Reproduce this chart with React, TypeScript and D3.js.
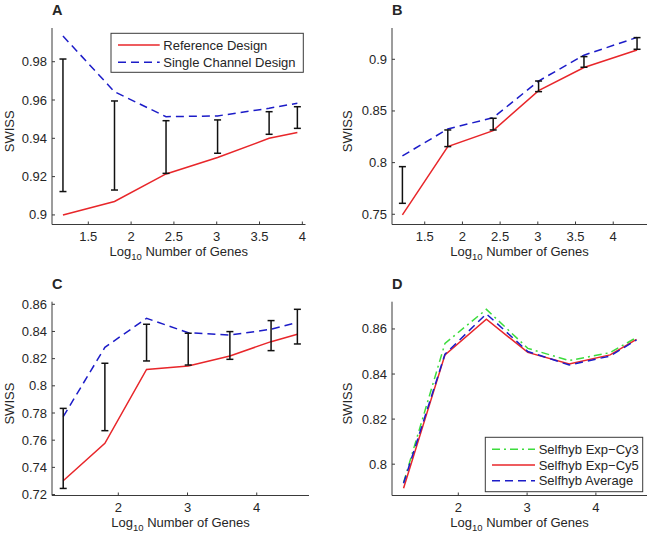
import React from "react";
import * as d3 from "d3";

// ---------- DATA ----------
const xA = [1.204, 1.806, 2.408, 3.01, 3.612, 3.942];
const refA = [0.9, 0.907, 0.9214, 0.93, 0.94, 0.943];
const scA = [0.9934, 0.9643, 0.9513, 0.9517, 0.9557, 0.9583];
const errLoA = [0.9122, 0.913, 0.9217, 0.9322, 0.9421, 0.9452];
const errHiA = [0.9814, 0.9595, 0.9492, 0.9496, 0.9539, 0.9565];
const xTicksA = [1.5, 2, 2.5, 3, 3.5, 4];
const yTicksA = [0.9, 0.92, 0.94, 0.96, 0.98];

const xB = [1.204, 1.806, 2.408, 3.01, 3.612, 4.316];
const refB = [0.7494, 0.8155, 0.831, 0.8697, 0.892, 0.909];
const scB = [0.8065, 0.8326, 0.8435, 0.879, 0.904, 0.9212];
const errLoB = [0.7606, 0.8155, 0.8316, 0.8687, 0.8923, 0.9097];
const errHiB = [0.7961, 0.8316, 0.8429, 0.879, 0.9026, 0.921];
const xTicksB = [1.5, 2, 2.5, 3, 3.5, 4];
const yTicksB = [0.75, 0.8, 0.85, 0.9];

const xC = [1.204, 1.806, 2.408, 3.01, 3.612, 4.207, 4.587];
const refC = [0.7302, 0.7577, 0.8121, 0.8146, 0.822, 0.8325, 0.8379];
const scC = [0.7773, 0.8283, 0.8497, 0.8391, 0.8374, 0.8416, 0.8467];
const errLoC = [0.7245, 0.767, 0.8183, 0.8153, 0.8195, 0.8259, 0.8308];
const errHiC = [0.7834, 0.8166, 0.8453, 0.8387, 0.8399, 0.848, 0.8563];
const xTicksC = [2, 3, 4];
const yTicksC = [0.72, 0.74, 0.76, 0.78, 0.8, 0.82, 0.84, 0.86];

const xD = [1.204, 1.806, 2.408, 3.01, 3.612, 4.207, 4.59];
const cy3D = [0.7918, 0.8536, 0.8687, 0.8514, 0.846, 0.8495, 0.8562];
const cy5D = [0.7893, 0.8485, 0.8643, 0.8496, 0.8445, 0.8485, 0.8554];
const avgD = [0.7915, 0.8488, 0.8667, 0.85, 0.844, 0.848, 0.8551];
const xTicksD = [2, 3, 4];
const yTicksD = [0.8, 0.82, 0.84, 0.86];

const legendAB = ["Reference Design", "Single Channel Design"];
const legendD = ["Selfhyb Exp\u2212Cy3", "Selfhyb Exp\u2212Cy5", "Selfhyb Average"];

// ---------- STYLE ----------
const FONT = "'Liberation Sans', Arial, Helvetica, sans-serif";
const TXT = "#262626";
const AX = "#3a3a3a";
const RED = "#e8262a";
const BLUE = "#1c1cc8";
const GREEN = "#3ddc3d";
const DASH = "8,5";
const DASHDOT = "8,4,2,4";

type Series = { ys: number[]; color: string; dash?: string };

type PanelProps = {
  letter: string;
  x0: number; x1: number; y0: number; y1: number;
  xDom: [number, number]; yDom: [number, number];
  xs: number[];
  series: Series[];
  errLo?: number[]; errHi?: number[];
  xTicks: number[]; yTicks: number[];
  ylabX: number;
};

const fmt = (v: number) => d3.format("~g")(+v.toFixed(4));

function Panel(p: PanelProps) {
  const xs = d3.scaleLinear().domain(p.xDom).range([p.x0, p.x1]);
  const ys = d3.scaleLinear().domain(p.yDom).range([p.y1, p.y0]);
  const line = (vals: number[]) =>
    d3.line<number>().x((_, i) => xs(p.xs[i])).y((v) => ys(v))(vals) || "";
  const midY = (p.y0 + p.y1) / 2 + 5;
  const midX = (p.x0 + p.x1) / 2;
  return (
    <g>
      <text x={p.x0} y={p.y0 - 13} fontSize={14.5} fontWeight="bold" fill={TXT} fontFamily={FONT}>
        {p.letter}
      </text>
      {/* axes */}
      <line x1={p.x0} x2={p.x0} y1={p.y0} y2={p.y1} stroke={AX} strokeWidth={1} />
      <line x1={p.x0} x2={p.x1} y1={p.y1} y2={p.y1} stroke={AX} strokeWidth={1} />
      {p.yTicks.map((t) => (
        <g key={"y" + t}>
          <line x1={p.x0} x2={p.x0 + 3} y1={ys(t)} y2={ys(t)} stroke={AX} strokeWidth={1} />
          <text x={p.x0 - 5} y={ys(t) + 4.5} textAnchor="end" fontSize={13} fill={TXT} fontFamily={FONT}>
            {fmt(t)}
          </text>
        </g>
      ))}
      {p.xTicks.map((t) => (
        <g key={"x" + t}>
          <line x1={xs(t)} x2={xs(t)} y1={p.y1} y2={p.y1 - 3} stroke={AX} strokeWidth={1} />
          <text x={xs(t)} y={p.y1 + 16.5} textAnchor="middle" fontSize={13} fill={TXT} fontFamily={FONT}>
            {fmt(t)}
          </text>
        </g>
      ))}
      <text x={midX} y={p.y1 + 31} textAnchor="middle" fontSize={13} fill={TXT} fontFamily={FONT}>
        Log<tspan fontSize={9.5} dy={4}>10</tspan>
        <tspan dy={-4}> Number of Genes</tspan>
      </text>
      <text
        transform={`translate(${p.ylabX},${midY}) rotate(-90)`}
        textAnchor="middle" fontSize={13} fill={TXT} fontFamily={FONT}
      >
        SWISS
      </text>
      {/* series */}
      {p.series.map((s, i) => (
        <path key={i} d={line(s.ys)} fill="none" stroke={s.color} strokeWidth={1.5}
          strokeDasharray={s.dash} />
      ))}
      {p.errLo && p.errHi && p.xs.map((xv, i) => {
        const cx = xs(xv);
        const lo = ys(p.errLo![i]);
        const hi = ys(p.errHi![i]);
        return (
          <g key={"e" + i} stroke="#111" strokeWidth={1.5}>
            <line x1={cx} x2={cx} y1={lo} y2={hi} />
            <line x1={cx - 3.5} x2={cx + 3.5} y1={lo} y2={lo} />
            <line x1={cx - 3.5} x2={cx + 3.5} y1={hi} y2={hi} />
          </g>
        );
      })}
    </g>
  );
}

type LegendProps = {
  x: number; y: number; w: number; h: number;
  rows: number[]; lineX0: number; lineX1: number; textX: number;
  labels: string[]; colors: string[]; dashes: (string | undefined)[];
};

function Legend(l: LegendProps) {
  return (
    <g>
      <rect x={l.x} y={l.y} width={l.w} height={l.h} fill="#fff" stroke={AX} strokeWidth={1} />
      {l.labels.map((lab, i) => (
        <g key={i}>
          <line x1={l.lineX0} x2={l.lineX1} y1={l.rows[i]} y2={l.rows[i]} stroke={l.colors[i]}
            strokeWidth={1.5} strokeDasharray={l.dashes[i]} />
          <text x={l.textX} y={l.rows[i] + 4.5} fontSize={13} fill={TXT} fontFamily={FONT}>
            {lab}
          </text>
        </g>
      ))}
    </g>
  );
}

export default function App() {
  return (
    <svg width={652} height={539} style={{ position: "absolute", left: 0, top: 0, background: "#fff" }}>
      <Panel letter="A" x0={52} x1={305.5} y0={28} y1={224.5}
        xDom={[1.076, 4.037]} yDom={[0.895, 0.9976]} xs={xA}
        series={[{ ys: refA, color: RED }, { ys: scA, color: BLUE, dash: DASH }]}
        errLo={errLoA} errHi={errHiA} xTicks={xTicksA} yTicks={yTicksA} ylabX={13.5} />
      <Legend x={111} y={33.3} w={192.3} h={39} rows={[45, 62.3]} lineX0={118} lineX1={159.7}
        textX={163.3} labels={legendAB} colors={[RED, BLUE]} dashes={[undefined, DASH]} />

      <Panel letter="B" x0={392} x1={647} y0={28} y1={224.5}
        xDom={[1.066, 4.448]} yDom={[0.7401, 0.9303]} xs={xB}
        series={[{ ys: refB, color: RED }, { ys: scB, color: BLUE, dash: DASH }]}
        errLo={errLoB} errHi={errHiB} xTicks={xTicksB} yTicks={yTicksB} ylabX={351.5} />

      <Panel letter="C" x0={52} x1={309} y0={301.7} y1={495.5}
        xDom={[1.042, 4.755]} yDom={[0.7193, 0.8619]} xs={xC}
        series={[{ ys: refC, color: RED }, { ys: scC, color: BLUE, dash: DASH }]}
        errLo={errLoC} errHi={errHiC} xTicks={xTicksC} yTicks={yTicksC} ylabX={13.5} />

      <Panel letter="D" x0={392} x1={647} y0={301.7} y1={495.5}
        xDom={[1.036, 4.743]} yDom={[0.7861, 0.8721]} xs={xD}
        series={[
          { ys: cy3D, color: GREEN, dash: DASHDOT },
          { ys: cy5D, color: RED },
          { ys: avgD, color: BLUE, dash: DASH },
        ]}
        xTicks={xTicksD} yTicks={yTicksD} ylabX={351.5} />
      <Legend x={485.3} y={437.3} w={157.4} h={54.4} rows={[449.3, 465, 480.7]} lineX0={492}
        lineX1={535} textX={538.7} labels={legendD} colors={[GREEN, RED, BLUE]}
        dashes={[DASHDOT, undefined, DASH]} />
    </svg>
  );
}
